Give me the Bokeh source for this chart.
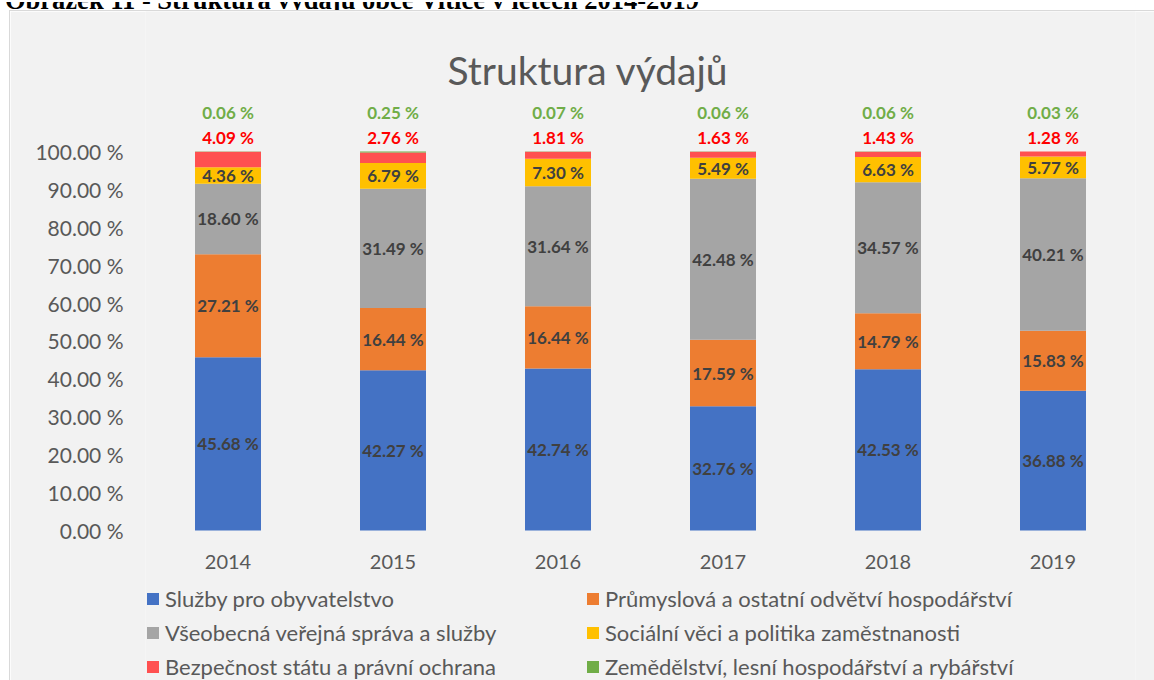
from bokeh.plotting import figure
from bokeh.models import (ColumnDataSource, FactorRange, FixedTicker, Legend, LegendItem,
                          Range1d, Div, Spacer)
from bokeh.layouts import column, row
from bokeh.core.properties import value
from bokeh.embed import file_html
from bokeh.resources import INLINE

caption = "Obrázek 11 - Struktura výdajů obce Vitice v letech 2014-2019"
title_text = "Struktura výdajů"
years = ["2014", "2015", "2016", "2017", "2018", "2019"]
series = [
    "Služby pro obyvatelstvo",
    "Průmyslová a ostatní odvětví hospodářství",
    "Všeobecná veřejná správa a služby",
    "Sociální věci a politika zaměstnanosti",
    "Bezpečnost státu a právní ochrana",
    "Zemědělství, lesní hospodářství a rybářství",
]
sluzby = [45.68, 42.27, 42.74, 32.76, 42.53, 36.88]
prumysl = [27.21, 16.44, 16.44, 17.59, 14.79, 15.83]
sprava = [18.60, 31.49, 31.64, 42.48, 34.57, 40.21]
socialni = [4.36, 6.79, 7.30, 5.49, 6.63, 5.77]
bezpecnost = [4.09, 2.76, 1.81, 1.63, 1.43, 1.28]
zemedelstvi = [0.06, 0.25, 0.07, 0.06, 0.06, 0.03]
y_ticks = [0, 10, 20, 30, 40, 50, 60, 70, 80, 90, 100]

colors = ["#4472C4", "#ED7D31", "#A5A5A5", "#FFC000", "#FF5050", "#70AD47"]
keys = ["s0", "s1", "s2", "s3", "s4", "s5"]
values = [sluzby, prumysl, sprava, socialni, bezpecnost, zemedelstvi]

FONT = "Lato"
BG = "#F2F2F2"
TXT = "#595959"
EDGE = "#D9D9D9"

data = {"year": years}
for k, v in zip(keys, values):
    data[k] = v
source = ColumnDataSource(data)

p = figure(
    x_range=FactorRange(*years, range_padding=0),
    y_range=Range1d(-39.58, 136.94),
    width=1144, height=669,
    output_backend="svg", toolbar_location=None,
    min_border_left=135, min_border_right=19, min_border_top=0, min_border_bottom=0,
    background_fill_color=BG, border_fill_color=BG, outline_line_color=None,
)
p.xgrid.grid_line_color = None
p.ygrid.grid_line_color = None
p.xaxis.visible = False

renderers = p.vbar_stack(keys, x="year", width=0.4, source=source,
                         color=colors, line_color=None)

# y axis
p.yaxis.ticker = FixedTicker(ticks=y_ticks)
p.yaxis.major_label_overrides = {t: f"{t:.2f} %" for t in y_ticks}
p.yaxis.axis_line_color = None
p.yaxis.major_tick_line_color = None
p.yaxis.minor_tick_line_color = None
p.yaxis.major_tick_out = 0
p.yaxis.major_label_standoff = 22
p.yaxis.major_label_text_font = FONT
p.yaxis.major_label_text_font_size = "21px"
p.yaxis.major_label_text_color = TXT

# category labels under the bars
p.text(x=years, y=[-8.3] * len(years), text=years, text_align="center",
       text_baseline="middle", text_font=value(FONT), text_font_size="20px",
       text_color=TXT)

# inner labels
lx, ly, lt = [], [], []
for i, yr in enumerate(years):
    base = 0.0
    for j in range(4):
        v = values[j][i]
        lx.append(yr)
        ly.append(base + v / 2)
        lt.append(f"{v:.2f} %")
        base += v
p.text(x=lx, y=ly, text=lt, text_align="center", text_baseline="middle",
       text_font=value(FONT), text_font_style="bold", text_font_size="17px",
       text_color="#404040")

# top labels (red and green)
p.text(x=years, y=[103.6] * len(years), text=[f"{v:.2f} %" for v in bezpecnost],
       text_align="center", text_baseline="middle", text_font=value(FONT),
       text_font_style="bold", text_font_size="17px", text_color="#FF0000")
p.text(x=years, y=[110.3] * len(years), text=[f"{v:.2f} %" for v in zemedelstvi],
       text_align="center", text_baseline="middle", text_font=value(FONT),
       text_font_style="bold", text_font_size="17px", text_color="#70AD47")

# title
p.text(x=[2.682], y=[121.6], text=[title_text], text_align="center",
       text_baseline="alphabetic", text_font=value(FONT), text_font_size="39px",
       text_color=TXT)

legend = Legend(
    items=[LegendItem(label=s, renderers=[r]) for s, r in zip(series, renderers)],
    location=(0, 0), orientation="horizontal", ncols=2,
    glyph_width=15, glyph_height=15, label_standoff=5, label_width=413,
    spacing=7, padding=0, margin=0,
    label_text_font=FONT, label_text_font_size="22px", label_text_color=TXT,
    background_fill_alpha=0, border_line_color=None,
)
p.add_layout(legend, "center")

cap = Div(
    text=('<div style="position:relative;width:1154px;height:10px;overflow:hidden;background:white;">'
          '<span style="position:absolute;left:5px;top:-15.5px;white-space:nowrap;line-height:1;'
          'font-family:\'Liberation Serif\';font-weight:bold;font-size:26.5px;color:black;">'
          + caption + '</span></div>'),
    width=1154, height=10, styles={"overflow": "hidden", "margin": "0", "padding": "0"},
)
hline = Spacer(width=1144, height=1, styles={"background-color": EDGE})
vline = Spacer(width=1, height=670, styles={"background-color": EDGE})
lpad = Spacer(width=9, height=670)

layout = column(cap, row(lpad, vline, column(hline, p)))

open("out.html", "w").write(file_html(layout, INLINE))
